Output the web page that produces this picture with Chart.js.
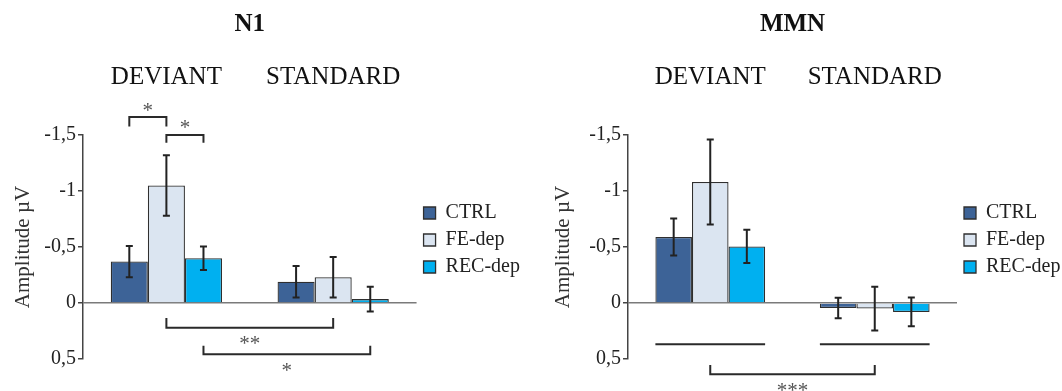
<!DOCTYPE html>
<html>
<head>
<meta charset="utf-8">
<script src="https://cdn.jsdelivr.net/npm/chart.js@4"></script>
<style>
    html, body { margin: 0; padding: 0; background: #fff; overflow: hidden; }
    .panel { position: absolute; top: 0; }
</style>
</head>
<body>
<div class="panel" style="left:0"><canvas id="n1Chart" width="531" height="391"></canvas></div>
<div class="panel" style="left:531px"><canvas id="mmnChart" width="531" height="391"></canvas></div>
<script>
const categorias = ['DEVIANT', 'STANDARD'];
const series = ['CTRL', 'FE-dep', 'REC-dep'];
const colores = ['#3d6397', '#dbe5f1', '#00b0f0'];
const yTicks = [-1.5, -1, -0.5, 0, 0.5];
const yTickLabels = ['-1,5', '-1', '-0,5', '0', '0,5'];

// N1 (µV, negativo hacia arriba)
const n1Ctrl = [-0.37, -0.19];
const n1Fe = [-1.05, -0.23];
const n1Rec = [-0.40, -0.035];
const n1CtrlErr = [0.14, 0.14];
const n1FeErr = [0.27, 0.18];
const n1RecErr = [0.105, 0.11];

// MMN
const mmnCtrl = [-0.59, 0.045];
const mmnFe = [-1.08, 0.05];
const mmnRec = [-0.505, 0.08];
const mmnCtrlErr = [0.165, 0.092];
const mmnFeErr = [0.38, 0.195];
const mmnRecErr = [0.148, 0.128];

const fuente = "'Liberation Serif', 'Times New Roman', serif";

// corchetes de significancia: desde/hasta = [dataset, categoria]
const n1Corchetes = [
    { desde: [0, 0], hasta: [1, 0], y: -1.66, punta: -1.575, texto: '*', yTexto: -1.75 },
    { desde: [1, 0], hasta: [2, 0], y: -1.5, punta: -1.43, texto: '*', yTexto: -1.6 },
    { desde: [1, 0], hasta: [1, 1], y: 0.22, punta: 0.134, texto: '**', yTexto: 0.33 },
    { desde: [2, 0], hasta: [2, 1], y: 0.458, punta: 0.381, texto: '*', yTexto: 0.57 }
];
const mmnCorchetes = [
    { grupo: 0, y: 0.369 },
    { grupo: 1, y: 0.369 },
    { desde: [1, 0], hasta: [1, 1], y: 0.637, punta: 0.554, texto: '***', yTexto: 0.75 }
];

const errorBars = {
    id: 'errorBars',
    afterDatasetsDraw(chart, args, opts) {
        const { ctx } = chart;
        const y = chart.scales.y;
        ctx.save();
        ctx.strokeStyle = '#222';
        ctx.lineWidth = 2;
        chart.data.datasets.forEach((ds, i) => {
            chart.getDatasetMeta(i).data.forEach((bar, j) => {
                const v = ds.data[j];
                const e = opts.errores[i][j];
                const arriba = y.getPixelForValue(v - e);
                const abajo = y.getPixelForValue(v + e);
                ctx.beginPath();
                ctx.moveTo(bar.x, arriba);
                ctx.lineTo(bar.x, abajo);
                ctx.moveTo(bar.x - 3.5, arriba);
                ctx.lineTo(bar.x + 3.5, arriba);
                ctx.moveTo(bar.x - 3.5, abajo);
                ctx.lineTo(bar.x + 3.5, abajo);
                ctx.stroke();
            });
        });
        ctx.restore();
    }
};

const corchetes = {
    id: 'corchetes',
    afterDraw(chart, args, opts) {
        const { ctx } = chart;
        const y = chart.scales.y;
        const barra = (d) => chart.getDatasetMeta(d[0]).data[d[1]];
        ctx.save();
        ctx.strokeStyle = '#2a2a2a';
        ctx.lineWidth = 2;
        opts.items.forEach(c => {
            const py = y.getPixelForValue(c.y);
            if (c.grupo !== undefined) {
                const b0 = chart.getDatasetMeta(0).data[c.grupo];
                const b2 = chart.getDatasetMeta(2).data[c.grupo];
                ctx.beginPath();
                ctx.moveTo(b0.x - b0.width / 2, py);
                ctx.lineTo(b2.x + b2.width / 2, py);
                ctx.stroke();
                return;
            }
            const x1 = barra(c.desde).x;
            const x2 = barra(c.hasta).x;
            const pp = y.getPixelForValue(c.punta);
            ctx.beginPath();
            ctx.moveTo(x1, pp);
            ctx.lineTo(x1, py);
            ctx.lineTo(x2, py);
            ctx.lineTo(x2, pp);
            ctx.stroke();

            ctx.font = `21px ${fuente}`;
            ctx.fillStyle = '#555';
            ctx.textAlign = 'center';
            ctx.textBaseline = 'alphabetic';
            const m = ctx.measureText(c.texto);
            const centro = (m.actualBoundingBoxAscent - m.actualBoundingBoxDescent) / 2;
            ctx.fillText(c.texto, (x1 + x2) / 2, y.getPixelForValue(c.yTexto) + centro);
        });
        ctx.restore();
    }
};

function crearPanel(id, titulo, valores, errores, items, izq, anchoY, derecha, legendMax) {
    return new Chart(document.getElementById(id), {
        type: 'bar',
        data: {
            labels: categorias,
            datasets: series.map((s, i) => ({
                label: s,
                data: valores[i],
                backgroundColor: colores[i],
                borderColor: '#2f2f2f',
                borderWidth: 1.3,
                barPercentage: 1,
                categoryPercentage: 0.667
            }))
        },
        options: {
            responsive: false,
            animation: false,
            layout: { padding: { left: izq, right: derecha, top: 0, bottom: 32 } },
            scales: {
                x: {
                    position: 'top',
                    grid: { display: false, drawTicks: false },
                    border: { display: false },
                    ticks: { font: { family: fuente, size: 25 }, color: '#111', padding: 43, maxRotation: 0 },
                    afterFit: s => { s.height = 95; }
                },
                y: {
                    reverse: true,
                    min: -1.5,
                    max: 0.5,
                    afterBuildTicks: s => { s.ticks = yTicks.map(v => ({ value: v })); },
                    afterFit: s => { s.width = anchoY; },
                    ticks: {
                        font: { family: fuente, size: 20 },
                        color: '#222',
                        padding: 2,
                        callback: (v, i) => yTickLabels[i]
                    },
                    grid: {
                        color: c => (c.tick && c.tick.value === 0) ? '#7a7a7a' : 'rgba(0,0,0,0)',
                        lineWidth: 1.5,
                        tickLength: 5,
                        tickColor: '#444'
                    },
                    border: { color: '#444', width: 1.5 },
                    title: {
                        display: true,
                        text: 'Amplitude µV',
                        font: { family: fuente, size: 21 },
                        color: '#333',
                        padding: { top: 10.5, bottom: 0 }
                    }
                }
            },
            plugins: {
                title: {
                    display: true,
                    text: titulo,
                    fullSize: false,
                    font: { family: fuente, size: 25, weight: 'bold' },
                    color: '#111',
                    padding: { top: 10, bottom: 0 }
                },
                legend: {
                    position: 'right',
                    align: 'start',
                    fullSize: false,
                    maxWidth: legendMax,
                    // titulo vacio solo para bajar las entradas
                    title: { display: true, text: '', font: { size: 10 }, padding: { top: 24, bottom: 25 } },
                    labels: {
                        font: { family: fuente, size: 20 },
                        color: '#222',
                        boxWidth: 12,
                        boxHeight: 12,
                        padding: 7
                    }
                },
                tooltip: { enabled: false },
                errorBars: { errores },
                corchetes: { items }
            }
        },
        plugins: [errorBars, corchetes]
    });
}

crearPanel('n1Chart', 'N1', [n1Ctrl, n1Fe, n1Rec], [n1CtrlErr, n1FeErr, n1RecErr], n1Corchetes, 0, 83, 1, 200);
crearPanel('mmnChart', 'MMN', [mmnCtrl, mmnFe, mmnRec], [mmnCtrlErr, mmnFeErr, mmnRecErr], mmnCorchetes, 9, 88, 0, 105);
</script>
</body>
</html>
